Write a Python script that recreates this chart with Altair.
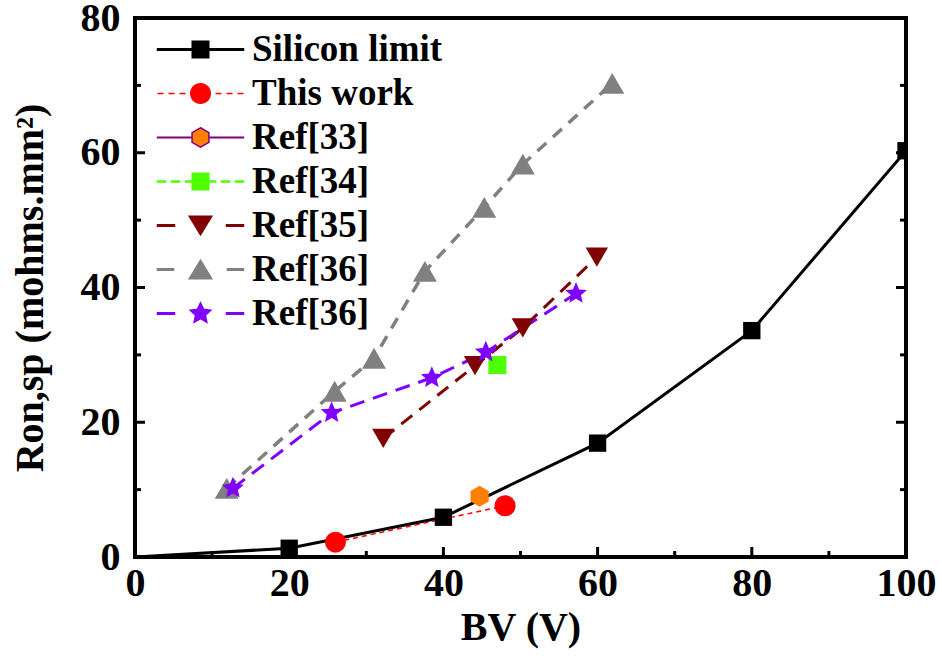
import math
import altair as alt
import pandas as pd

# Breakdown voltage BV (V) and specific on-resistance Ron,sp (mohms.mm2)
si_bv = [0, 20, 40, 60, 80, 100]
si_ron = [0.0, 1.3, 5.9, 16.9, 33.6, 60.3]

this_bv = [26.0, 48.0]
this_ron = [2.2, 7.6]

ref33_bv = [44.7]
ref33_ron = [9.0]

ref34_bv = [47.0]
ref34_ron = [28.5]

ref35_bv = [32.2, 44.1, 50.3, 59.9]
ref35_ron = [17.6, 28.4, 34.0, 44.5]

ref36a_bv = [11.9, 25.9, 31.0, 37.6, 45.3, 50.3, 61.9]
ref36a_ron = [10.2, 24.6, 29.5, 42.4, 51.9, 58.3, 70.3]

ref36b_bv = [12.7, 25.5, 38.5, 45.5, 57.2]
ref36b_ron = [10.2, 21.4, 26.6, 30.4, 39.1]

labels = ["Silicon limit", "This work", "Ref[33]", "Ref[34]", "Ref[35]", "Ref[36]", "Ref[36]"]

x_major = [0, 20, 40, 60, 80, 100]
x_minor = [10, 30, 50, 70, 90]
y_major = [0, 20, 40, 60, 80]
y_minor = [10, 30, 50, 70]

FONT = "Liberation Serif"
W, H = 771, 539


def polygon(points):
    return "M" + "L".join(f"{x:.3f},{y:.3f}" for x, y in points) + "Z"


def star_points(r_out, r_in):
    pts = []
    for i in range(10):
        a = math.radians(-90 + 36 * i)
        r = r_out if i % 2 == 0 else r_in
        pts.append((r * math.cos(a), r * math.sin(a)))
    return pts


def hex_points(r):
    return [(r * math.cos(math.radians(-90 + 60 * i)), r * math.sin(math.radians(-90 + 60 * i))) for i in range(6)]


def circle_points(r, n=40):
    return [(r * math.cos(2 * math.pi * i / n), r * math.sin(2 * math.pi * i / n)) for i in range(n)]


STAR = polygon(star_points(1.0, 0.45))
HEXAGON = polygon(hex_points(1.0))

# per-series drawing style: marker, marker size, marker colour, line colour, line width, dash
styles = [
    dict(shape="square", size=300, fill="#000000", line="#000000", width=3, dash=None),
    dict(shape="circle", size=441, fill="#FF0000", line="#FF0000", width=1.5, dash=[5, 4]),
    dict(shape=HEXAGON, size=441, fill="#FF8000", line="#800080", width=2, dash=None),
    dict(shape="square", size=324, fill="#4DFF00", line="#4DFF00", width=2, dash=[7, 5]),
    dict(shape="triangle-down", size=500, fill="#800000", line="#800000", width=3, dash=[14, 9]),
    dict(shape="triangle-up", size=576, fill="#808080", line="#808080", width=3.5, dash=[12, 9]),
    dict(shape=STAR, size=529, fill="#8000FF", line="#8000FF", width=3, dash=[15, 9]),
]
series_data = [
    (si_bv, si_ron), (this_bv, this_ron), (ref33_bv, ref33_ron), (ref34_bv, ref34_ron),
    (ref35_bv, ref35_ron), (ref36a_bv, ref36a_ron), (ref36b_bv, ref36b_ron),
]

xscale = alt.Scale(domain=[0, 100], nice=False, zero=False)
yscale = alt.Scale(domain=[0, 80], nice=False, zero=False)

xaxis = alt.Axis(
    values=x_major, title="BV (V)", format="d", ticks=False, domain=False, grid=False,
    labelFont=FONT, labelFontSize=40, labelFontWeight="bold", labelColor="black",
    labelPadding=6, labelFlush=False,
    titleFont=FONT, titleFontSize=40, titleFontWeight="bold", titleColor="black", titlePadding=4,
)
yaxis = alt.Axis(
    values=y_major, title="Ron,sp (mohms.mm²)", format="d", ticks=False, domain=False, grid=False,
    labelFont=FONT, labelFontSize=40, labelFontWeight="bold", labelColor="black",
    labelPadding=15, labelFlush=False,
    titleFont=FONT, titleFontSize=40, titleFontWeight="bold", titleColor="black", titlePadding=30,
)


def X():
    return alt.X("bv:Q", scale=xscale, axis=xaxis)


def Y():
    return alt.Y("ron:Q", scale=yscale, axis=yaxis)


layers = []

# series lines
for (bv, ron), st in zip(series_data, styles):
    if len(bv) < 2:
        continue
    df = pd.DataFrame({"bv": bv, "ron": ron})
    kw = dict(color=st["line"], strokeWidth=st["width"], clip=True)
    if st["dash"]:
        kw["strokeDash"] = st["dash"]
    layers.append(alt.Chart(df).mark_line(**kw).encode(x=X(), y=Y()))

# series markers
for i, ((bv, ron), st) in enumerate(zip(series_data, styles)):
    df = pd.DataFrame({"bv": bv, "ron": ron})
    ch = alt.Chart(df)
    if i == 0:
        ch = ch.transform_filter("datum.bv > 0")
    layers.append(
        ch.mark_point(shape=st["shape"], size=st["size"], filled=True, color=st["fill"],
                      opacity=1, strokeWidth=0, clip=True).encode(x=X(), y=Y())
    )

# inward tick marks on bottom, left and right frame edges
def xticks(vals, length):
    df = pd.DataFrame({"bv": vals})
    return alt.Chart(df).mark_rule(color="black", strokeWidth=3).encode(
        x=X(), y=alt.value(H), y2=alt.value(H - length))


def yticks(vals, length, right=False):
    df = pd.DataFrame({"ron": vals})
    x0 = W if right else 0
    x1 = W - length if right else length
    return alt.Chart(df).mark_rule(color="black", strokeWidth=3).encode(
        y=Y(), x=alt.value(x0), x2=alt.value(x1))


layers += [
    xticks(x_major, 10), xticks(x_minor, 6),
    yticks(y_major, 10), yticks(y_minor, 6),
    yticks(y_major, 10, right=True), yticks(y_minor, 6, right=True),
]

# legend: each symbol is a line sample with the series marker on it
U = 9.0  # pixels per symbol-path unit at symbolSize 324
SW = 1.5  # legend symbol stroke width


def legend_dashes(dash, gap, inner, extent=43.0):
    segs = []
    x = -extent
    while x < -inner:
        segs.append((x, min(x + dash, -inner)))
        x += dash + gap
    return segs + [(-b, -a) for a, b in segs]


def seg(x0, x1, width):
    half = (width - SW) / 2
    if half <= 0.05:
        return f"M{x0 / U:.3f},0L{x1 / U:.3f},0"
    return polygon([(x0 / U, -half / U), (x1 / U, -half / U), (x1 / U, half / U), (x0 / U, half / U)])


def scaled(points):
    return polygon([(x / U, y / U) for x, y in points])


s = SW / 2
legend_specs = [
    (scaled([(-9 + s, -9 + s), (9 - s, -9 + s), (9 - s, 9 - s), (-9 + s, 9 - s)]), 9, (200, 0), 3),
    (scaled(circle_points(10.5 - s)), 10.5, (6, 5), 1.5),
    (scaled(hex_points(10.5 - s)), 10, (200, 0), 2),
    (scaled([(-9 + s, -9 + s), (9 - s, -9 + s), (9 - s, 9 - s), (-9 + s, 9 - s)]), 9, (8, 6), 2.5),
    (scaled([(-12 + s, -10 + s), (12 - s, -10 + s), (0, 10 - s)]), 12, (17, 30), 3),
    (scaled([(0, -10 + s), (12 - s, 10 - s), (-12 + s, 10 - s)]), 12, (16, 31), 3),
    (scaled(star_points(11.5 - s, 5.2)), 11, (17, 30), 3),
]
legend_paths = []
for marker, inner, (dash, gap), width in legend_specs:
    lines = "".join(seg(a, b, width) for a, b in legend_dashes(dash, gap, inner))
    legend_paths.append(lines + marker)

keys = [lab if lab not in labels[:i] else lab + "#" for i, lab in enumerate(labels)]
legend = alt.Legend(
    title=None, orient="none", legendX=47, legendY=13, direction="vertical", padding=0,
    labelFont=FONT, labelFontSize=37, labelFontWeight="bold", labelColor="black",
    labelOffset=33, labelLimit=500, rowPadding=6, symbolSize=324, symbolStrokeWidth=SW,
    symbolOpacity=1, labelExpr="replace(datum.label, '#', '')",
)
legend_df = pd.DataFrame({"key": keys})
legend_layer = alt.Chart(legend_df).mark_point(filled=True, size=324, opacity=1).encode(
    x=alt.value(-5000), y=alt.value(-5000),
    fill=alt.Fill("key:N", scale=alt.Scale(domain=keys, range=[st["fill"] for st in styles]), legend=legend),
    stroke=alt.Stroke("key:N", scale=alt.Scale(domain=keys, range=[st["line"] for st in styles]), legend=legend),
    shape=alt.Shape("key:N", scale=alt.Scale(domain=keys, range=legend_paths), legend=legend),
)
layers.append(legend_layer)

chart = alt.layer(*layers).properties(
    width=W, height=H,
    autosize=alt.AutoSizeParams(type="none"),
    padding={"left": 135, "top": 18, "right": 36, "bottom": 99},
    background="white",
).configure_view(stroke="black", strokeWidth=4)

chart.save("out.html", embed_options={"renderer": "svg", "actions": False})
